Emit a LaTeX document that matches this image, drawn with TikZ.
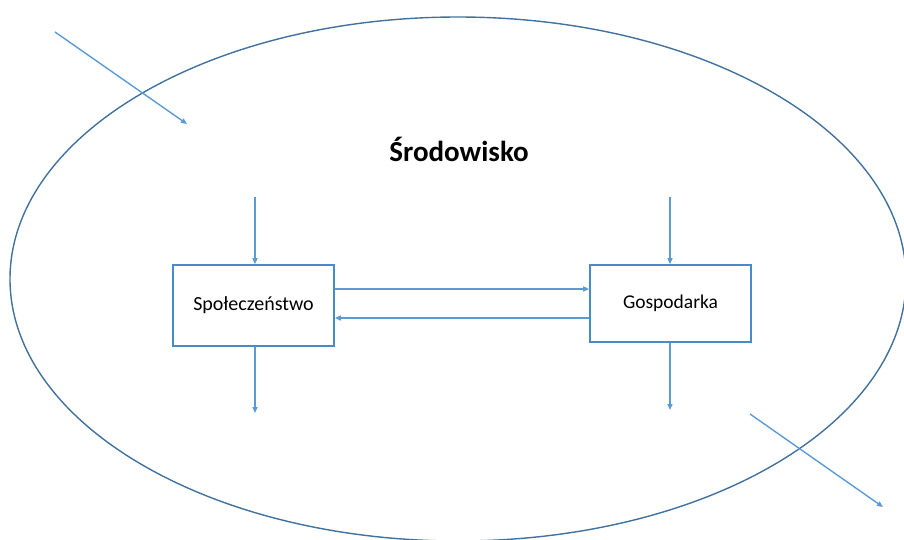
\documentclass[tikz,border=0pt]{standalone}
\usepackage{fontspec}
\setmainfont{Carlito}
\usetikzlibrary{arrows.meta, positioning}
\definecolor{rim}{RGB}{65,113,156}
\definecolor{flowc}{RGB}{91,155,213}
\definecolor{boxc}{RGB}{70,140,205}
\tikzset{
  sector/.style={rectangle, draw=boxc, fill=white, line width=1.6pt,
    minimum width=161pt, align=center, font=\fontsize{20}{24}\selectfont},
  flow/.style={-{Triangle[length=6pt,width=5pt]}, line width=1.4pt, color=flowc},
}
\begin{document}
\begin{tikzpicture}[x=1pt, y=-1pt]
\clip (0,0) rectangle (904,539);
  % environment
  \draw[rim, line width=1.4pt] (458,279) ellipse [x radius=448, y radius=262];
  \node[font=\bfseries\fontsize{29}{34}\selectfont] (env) at (459,149) {Środowisko};

  % two sectors
  \node[sector, minimum height=81pt] (spo) at (253.5,305.5) {Społeczeństwo};
  \node[sector, minimum height=77pt, font=\fontsize{19.5}{24}\selectfont] (gos) at (670.5,303.5) {Gospodarka};

  \coordinate (spoin)  at (255,197);
  \coordinate (spoout) at (255,413);
  \coordinate (gosin)  at (670,197);
  \coordinate (gosout) at (670,410);
  \coordinate (upper)  at (0,289);
  \coordinate (lower)  at (0,318);
  \coordinate (inA)  at (55,32);
  \coordinate (inB)  at (187,124);
  \coordinate (outA) at (750,414);
  \coordinate (outB) at (883,507);

  \draw[flow] (spoin) -- (spoin |- spo.north);
  \draw[flow] (spoout |- spo.south) -- (spoout);
  \draw[flow] (gosin) -- (gosin |- gos.north);
  \draw[flow] (gosout |- gos.south) -- (gosout);
  \draw[flow] (spo.east |- upper) -- (gos.west |- upper);
  \draw[flow] (gos.west |- lower) -- (spo.east |- lower);

  % flows across the boundary
  \draw[flow] (inA) -- (inB);
  \draw[flow] (outA) -- (outB);
\end{tikzpicture}
\end{document}
